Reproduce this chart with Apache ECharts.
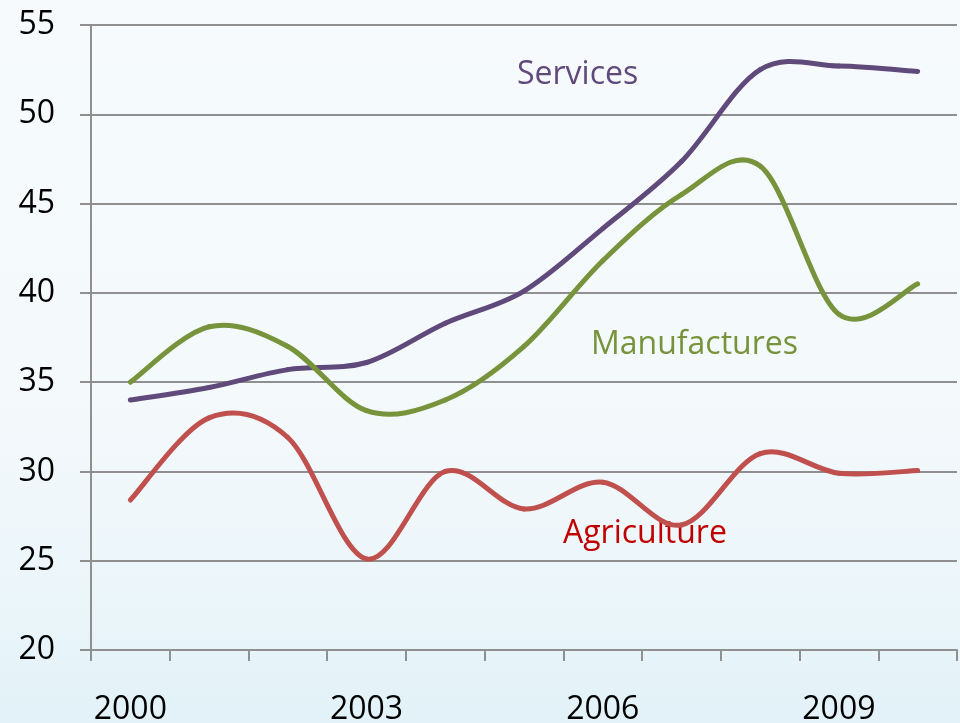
<!DOCTYPE html>
<html>
<head>
<meta charset="utf-8">
<style>
  html, body { margin: 0; padding: 0; }
  #chart { width: 960px; height: 723px; }
</style>
<script src="https://cdn.jsdelivr.net/npm/echarts@6/dist/echarts.min.js"></script>
</head>
<body>
<div id="chart"></div>
<script>
const years = ['2000','2001','2002','2003','2004','2005','2006','2007','2008','2009','2010'];
const services = [34.0, 34.7, 35.7, 36.1, 38.3, 40.1, 43.6, 47.35, 52.5, 52.7, 52.4];
const manufactures = [35.0, 38.1, 37.0, 33.4, 34.0, 37.0, 41.8, 45.5, 47.1, 38.8, 40.5];
const agriculture = [28.4, 33.0, 31.9, 25.1, 30.0, 27.9, 29.4, 27.0, 31.0, 29.9, 30.05];
const seriesNames = ['Services', 'Manufactures', 'Agriculture'];

const FONT = '"Open Sans", "Noto Sans", sans-serif';
const chart = echarts.init(document.getElementById('chart'));

// Smooth (Catmull-Rom style) line drawn segment by segment through the axis scales
function splineSeries(name, arr, color) {
  const n = arr.length;
  return {
    name: name, type: 'custom',
    data: arr.map(function (v, i) { return [i, v]; }),
    encode: { x: 0, y: 1 },
    clip: false,
    renderItem: function (params, api) {
      const i = params.dataIndex;
      if (i >= n - 1) return null;
      const P = function (k) {
        const j = Math.max(0, Math.min(n - 1, k));
        return api.coord([j, arr[j]]);
      };
      const p0 = P(i - 1), p1 = P(i), p2 = P(i + 1), p3 = P(i + 2);
      const t = 1 / 6;
      return {
        type: 'bezierCurve',
        shape: {
          x1: p1[0], y1: p1[1], x2: p2[0], y2: p2[1],
          cpx1: p1[0] + (p2[0] - p0[0]) * t, cpy1: p1[1] + (p2[1] - p0[1]) * t,
          cpx2: p2[0] - (p3[0] - p1[0]) * t, cpy2: p2[1] - (p3[1] - p1[1]) * t
        },
        style: { fill: null, stroke: color, lineWidth: 5, lineCap: 'round' }
      };
    }
  };
}

chart.setOption({
  animation: false,
  backgroundColor: {
    type: 'linear', x: 0, y: 0, x2: 0, y2: 1,
    colorStops: [
      { offset: 0, color: '#f6fafc' },
      { offset: 0.55, color: '#f4f9fb' },
      { offset: 0.8, color: '#ecf6fa' },
      { offset: 1, color: '#e2f2f8' }
    ]
  },
  grid: { left: 91, right: 3, top: 25, bottom: 73, containLabel: false, outerBoundsMode: 'none' },
  xAxis: {
    type: 'category', data: years, boundaryGap: true,
    axisLine: { show: true, lineStyle: { color: '#8f8f8f', width: 2 } },
    axisTick: { show: true, interval: 0, length: 11, lineStyle: { color: '#8f8f8f', width: 2 } },
    axisLabel: { interval: 2, color: '#000', fontFamily: FONT, fontSize: 32, margin: 44 },
    splitLine: { show: false }
  },
  yAxis: {
    type: 'value', min: 20, max: 55, interval: 5,
    axisLine: { show: true, lineStyle: { color: '#8f8f8f', width: 2 } },
    axisTick: { show: true, length: 11, lineStyle: { color: '#8f8f8f', width: 2 } },
    axisLabel: { color: '#000', fontFamily: FONT, fontSize: 32, margin: 36 },
    splitLine: { show: true, lineStyle: { color: '#8f8f8f', width: 2 } }
  },
  series: [
    splineSeries(seriesNames[0], services, '#604a7b'),
    splineSeries(seriesNames[1], manufactures, '#77933c'),
    splineSeries(seriesNames[2], agriculture, '#c0504d')
  ],
  graphic: [
    { type: 'text', left: 517, top: 59, style: { text: seriesNames[0], fill: '#604a7b', font: '32px ' + FONT } },
    { type: 'text', left: 591, top: 329, style: { text: seriesNames[1], fill: '#77933c', font: '32px ' + FONT } },
    { type: 'text', left: 563, top: 518, style: { text: seriesNames[2], fill: '#c00000', font: '32px ' + FONT } }
  ]
});
</script>
</body>
</html>
